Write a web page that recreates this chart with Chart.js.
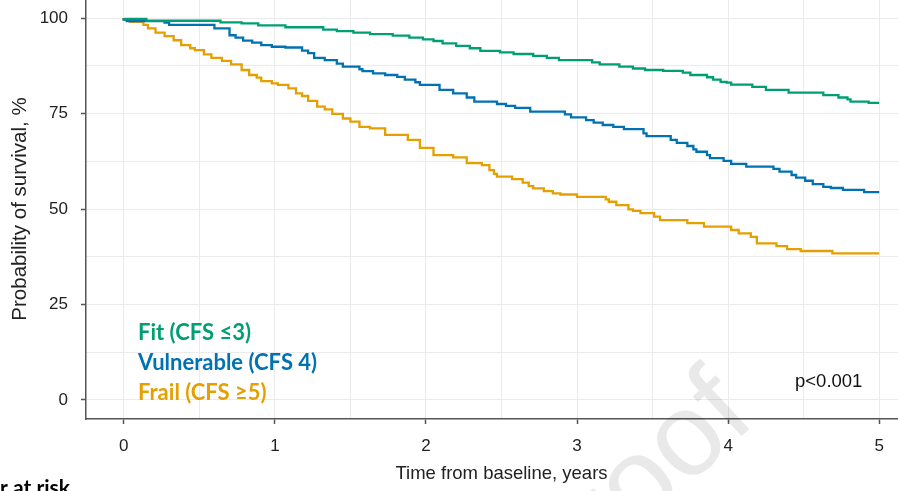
<!DOCTYPE html>
<html>
<head>
<meta charset="utf-8">
<script src="https://cdn.jsdelivr.net/npm/chart.js"></script>
<style>
html, body { margin: 0; padding: 0; background: #fff; overflow: hidden; width: 898px; height: 491px; }
#chart { position: absolute; left: 0; top: -1px; }
</style>
</head>
<body>
<canvas id="chart" width="940" height="492"></canvas>
<script>
// Kaplan-Meier steps (years, % surviving)
const fitTime = [0, 0.15, 0.64, 0.78, 0.89, 1.07, 1.32, 1.41, 1.52, 1.63, 1.78, 1.89, 1.98, 2.05, 2.11, 2.20, 2.29, 2.36, 2.49, 2.58, 2.71, 2.80, 2.88, 3.10, 3.15, 3.28, 3.37, 3.45, 3.57, 3.70, 3.75, 3.86, 3.90, 3.95, 3.99, 4.02, 4.16, 4.25, 4.40, 4.63, 4.73, 4.79, 4.81, 4.93, 4.96, 5.0];
const fitSurv = [100, 99.8, 99.3, 98.9, 98.6, 98.1, 97.6, 97.0, 96.6, 96.2, 95.8, 95.4, 94.9, 94.4, 94.0, 93.4, 92.7, 92.1, 91.4, 91.0, 90.6, 90.1, 89.6, 89.0, 88.4, 87.9, 87.3, 86.8, 86.4, 86.2, 85.7, 85.1, 84.5, 83.9, 83.3, 83.1, 82.6, 82.0, 81.2, 80.5, 79.8, 79.2, 78.7, 78.1, 77.8, 77.8];

const vulTime = [0, 0.02, 0.27, 0.30, 0.60, 0.70, 0.74, 0.79, 0.85, 0.91, 0.98, 1.07, 1.18, 1.22, 1.26, 1.33, 1.41, 1.45, 1.56, 1.58, 1.65, 1.73, 1.81, 1.86, 1.93, 1.96, 2.09, 2.18, 2.27, 2.32, 2.47, 2.53, 2.59, 2.69, 2.92, 2.96, 3.06, 3.11, 3.17, 3.24, 3.31, 3.44, 3.46, 3.62, 3.66, 3.73, 3.77, 3.79, 3.86, 3.88, 3.97, 4.02, 4.12, 4.30, 4.34, 4.42, 4.45, 4.51, 4.56, 4.63, 4.68, 4.76, 4.90, 4.94, 5.0];
const vulSurv = [100, 99.6, 99.2, 98.8, 98.2, 97.3, 95.5, 94.9, 94.1, 93.6, 92.9, 92.5, 92.3, 91.5, 90.8, 89.6, 89.0, 88.1, 87.3, 86.6, 86.1, 85.5, 85.1, 84.6, 83.9, 83.2, 82.5, 81.2, 80.3, 79.2, 78.1, 77.5, 77.0, 76.5, 75.5, 74.8, 74.0, 73.3, 72.6, 72.0, 71.5, 70.9, 69.8, 69.1, 68.1, 67.3, 66.5, 65.6, 65.0, 64.1, 63.3, 62.6, 61.8, 61.1, 60.5, 59.8, 58.9, 58.2, 57.4, 56.5, 55.8, 55.5, 55.0, 54.4, 54.4];

const frailTime = [0, 0.04, 0.13, 0.16, 0.21, 0.27, 0.33, 0.38, 0.44, 0.47, 0.53, 0.58, 0.65, 0.71, 0.78, 0.83, 0.88, 0.91, 0.98, 1.02, 1.09, 1.14, 1.18, 1.22, 1.28, 1.33, 1.38, 1.45, 1.50, 1.56, 1.63, 1.73, 1.88, 1.96, 2.05, 2.18, 2.27, 2.37, 2.42, 2.45, 2.47, 2.57, 2.64, 2.68, 2.71, 2.78, 2.84, 2.89, 3.00, 3.19, 3.21, 3.26, 3.34, 3.37, 3.42, 3.51, 3.55, 3.73, 3.84, 4.02, 4.07, 4.15, 4.19, 4.32, 4.39, 4.48, 4.69, 4.83, 5.0];
const frailSurv = [100, 99.6, 99.0, 98.2, 97.3, 96.2, 95.3, 94.2, 92.9, 92.1, 91.6, 90.5, 89.6, 88.8, 87.9, 86.4, 85.1, 84.4, 83.5, 82.9, 82.5, 81.6, 80.3, 79.6, 78.3, 76.8, 76.1, 74.9, 73.7, 72.9, 71.5, 71.1, 69.4, 68.1, 66.0, 64.1, 63.5, 62.0, 61.5, 60.2, 59.2, 58.5, 57.8, 56.9, 56.0, 55.4, 54.7, 54.1, 53.8, 53.2, 52.5, 51.9, 51.0, 49.9, 49.5, 48.9, 48.0, 47.1, 46.3, 45.4, 44.5, 43.6, 42.7, 41.0, 40.3, 39.5, 39.0, 38.4, 38.4];

const groupNames = ["Fit (CFS ≤3)", "Vulnerable (CFS 4)", "Frail (CFS ≥5)"];
const groupColors = ["#009E73", "#0072B2", "#E69F00"];

const xTickLabels = [0, 1, 2, 3, 4, 5];
const yTickLabels = [0, 25, 50, 75, 100];
const xGridLines = [0, 0.5, 1, 1.5, 2, 2.5, 3, 3.5, 4, 4.5, 5];
const yGridLines = [0, 12.5, 25, 37.5, 50, 62.5, 75, 87.5, 100];

const pValue = "p<0.001";

function toPoints(times, surv) {
    return times.map((t, i) => ({x: t, y: surv[i]}));
}

const series = [
    toPoints(fitTime, fitSurv),
    toPoints(vulTime, vulSurv),
    toPoints(frailTime, frailSurv)
];

const overlay = {
    id: "overlay",
    afterDraw(chart) {
        const ctx = chart.ctx;
        ctx.save();
        // faint watermark, only its tail shows in the crop
        ctx.save();
        ctx.translate(758, 422);
        ctx.rotate(-43 * Math.PI / 180);
        ctx.font = "118px 'Liberation Sans'";
        ctx.textAlign = "right";
        ctx.textBaseline = "alphabetic";
        ctx.fillStyle = "rgba(0,0,0,0.085)";
        ctx.fillText("Journal Pre-proof", 0, 0);
        ctx.restore();

        ctx.font = "bold 22px Lato";
        ctx.textAlign = "left";
        ctx.textBaseline = "alphabetic";
        groupNames.forEach((name, i) => {
            ctx.fillStyle = groupColors[i];
            ctx.fillText(name, 138, 341 + 30 * i);
        });

        ctx.font = "18.5px 'Liberation Sans'";
        ctx.fillStyle = "#111";
        ctx.fillText(pValue, 795, 388);

        ctx.font = "bold 21px Lato";
        ctx.fillStyle = "#000";
        ctx.textAlign = "right";
        ctx.fillText("Number at risk", 70, 496);
        ctx.restore();
    }
};

const tickFont = {family: "'Liberation Sans', Arial", size: 17};

new Chart("chart", {
    type: "line",
    data: {
        datasets: series.map((pts, i) => ({
            label: groupNames[i],
            data: pts,
            borderColor: groupColors[i],
            backgroundColor: groupColors[i],
            borderWidth: 2.3,
            stepped: "after",
            pointRadius: 0,
            fill: false
        }))
    },
    options: {
        responsive: false,
        animation: false,
        devicePixelRatio: 1,
        layout: {padding: {left: 0, right: 23, top: 0, bottom: 0}},
        plugins: {legend: {display: false}, tooltip: {enabled: false}},
        scales: {
            x: {
                type: "linear",
                min: -0.25,
                max: 5.25,
                afterBuildTicks: s => { s.ticks = xGridLines.map(v => ({value: v})); },
                afterFit: s => { s.height = 72; s.paddingLeft = 0; s.paddingRight = 0; },
                ticks: {
                    autoSkip: false,
                    maxRotation: 0,
                    padding: 12,
                    color: "#222",
                    font: tickFont,
                    callback: v => xTickLabels.includes(v) ? String(v) : ""
                },
                grid: {
                    color: "#ebebeb",
                    lineWidth: 1,
                    tickLength: 5,
                    tickWidth: 1.5,
                    tickColor: c => (c.tick && xTickLabels.includes(c.tick.value)) ? "#555" : "rgba(0,0,0,0)"
                },
                border: {display: true, color: "#555", width: 1.5},
                title: {
                    display: true,
                    text: "Time from baseline, years",
                    color: "#222",
                    font: {family: "'Liberation Sans', Arial", size: 18.5},
                    padding: {top: 0, bottom: 6}
                }
            },
            y: {
                type: "linear",
                min: -5,
                max: 105,
                afterBuildTicks: s => { s.ticks = yGridLines.map(v => ({value: v})); },
                afterFit: s => { s.width = 86; s.paddingTop = 0; s.paddingBottom = 0; },
                ticks: {
                    autoSkip: false,
                    padding: 13,
                    color: "#222",
                    font: tickFont,
                    callback: v => yTickLabels.includes(v) ? String(v) : ""
                },
                grid: {
                    color: "#ebebeb",
                    lineWidth: 1,
                    tickLength: 5,
                    tickWidth: 1.5,
                    tickColor: c => (c.tick && yTickLabels.includes(c.tick.value)) ? "#555" : "rgba(0,0,0,0)"
                },
                border: {display: true, color: "#555", width: 1.5},
                title: {
                    display: true,
                    text: "Probability of survival, %",
                    color: "#222",
                    font: {family: "'Liberation Sans', Arial", size: 20.5},
                    padding: {top: 8, bottom: 0}
                }
            }
        }
    },
    plugins: [overlay]
});
</script>
</body>
</html>
